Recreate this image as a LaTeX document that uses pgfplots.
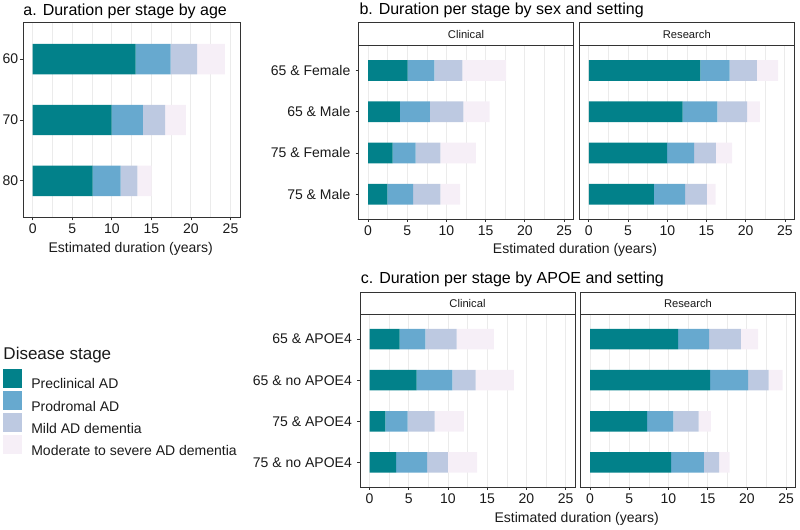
\documentclass[border=0pt]{standalone}
\usepackage{pgfplots}
\pgfplotsset{compat=1.18}
\usepackage{pgfplotstable}
\usepackage{fontspec}
\setmainfont{Liberation Sans}
\definecolor{cPre}{HTML}{02818A}
\definecolor{cPro}{HTML}{67A9CF}
\definecolor{cMild}{HTML}{BDC9E1}
\definecolor{cMod}{HTML}{F6EFF7}
\definecolor{gridc}{HTML}{EBEBEB}
\definecolor{g20}{HTML}{333333}
\definecolor{txt}{HTML}{1A1A1A}

\pgfplotstableread{
y pre pro mild mod
1 13.00 4.42 3.37 3.49
2 9.97 3.96 2.82 2.61
3 7.58 3.53 2.11 1.81
}\tA
\pgfplotstableread{
y pre pro mild mod
1 5.03 3.44 3.56 5.58
2 4.07 3.81 4.28 3.35
3 3.14 2.94 3.14 4.53
4 2.47 3.27 3.48 2.52
}\tBc
\pgfplotstableread{
y pre pro mild mod
1 14.23 3.72 3.46 2.72
2 11.96 4.42 3.79 1.65
3 9.98 3.43 2.80 2.07
4 8.29 4.00 2.77 1.11
}\tBr
\pgfplotstableread{
y pre pro mild mod
1 3.84 3.29 3.97 4.76
2 5.99 4.56 2.99 4.86
3 2.03 2.82 3.46 3.72
4 3.38 3.96 2.66 3.73
}\tCc
\pgfplotstableread{
y pre pro mild mod
1 11.22 3.97 4.05 2.19
2 15.32 4.85 2.61 1.78
3 7.26 3.37 3.21 1.56
4 10.34 4.17 1.95 1.35
}\tCr

\newcommand{\stages}[1]{%
\addplot[fill=cPre,draw=none] table[x=pre,y=y]{#1};
\addplot[fill=cPro,draw=none] table[x=pro,y=y]{#1};
\addplot[fill=cMild,draw=none] table[x=mild,y=y]{#1};
\addplot[fill=cMod,draw=none] table[x=mod,y=y]{#1};
}

\pgfplotsset{
  panel/.style={
    scale only axis, width=215bp,
    xbar stacked, bar width=0.5,
    xmin=-1.22, xmax=26.2,
    xtick={0,5,...,25}, minor xtick={2.5,7.5,...,22.5},
    xmajorgrids, xminorgrids,
    major grid style={color=gridc, line width=0.9bp},
    minor grid style={color=gridc, line width=0.5bp},
    y dir=reverse, ymin=0.4, ymax=4.6, ytick={1,2,3,4},
    axis line style={color=g20, line width=0.9bp},
    tick align=outside, major tick length=3bp, minor tick length=0pt,
    tick style={color=g20, line width=0.8bp},
    xtick pos=bottom, ytick pos=left,
    ticklabel style={font=\fontsize{14bp}{16bp}\selectfont, text=txt},
    yticklabel style={inner xsep=5bp},
    /pgf/number format/assume math mode=true,
    clip=false,
  },
  research/.style={ytick=\empty},
}

\newcommand{\strip}[3]{%
  \draw[g20, line width=0.9bp, fill=white] (#1.north west) rectangle ([yshift=#2]#1.north east);
  \node[font=\fontsize{11.2bp}{13bp}\selectfont, text=txt] at ([yshift=0.5*#2]#1.north) {#3};
}

\begin{document}
\begin{tikzpicture}[x=1bp,y=1bp]
\path[use as bounding box] (0,0) rectangle (800,530);

% Panel a
\begin{axis}[panel, width=217bp, height=194.6bp, at={(23bp,312.7bp)}, anchor=south west,
  ymax=3.6, ytick={1,2,3}, yticklabels={60,70,80},
  yticklabel style={inner xsep=3.2bp, xshift=1.5bp},
  legend image code/.code={\path[#1,draw=none] (0bp,-3.3bp) rectangle (19.4bp,15.7bp);},
  legend cell align=left,
  legend style={at={(axis description cs:-0.0935,-0.778)}, anchor=north west,
    draw=none, fill=none, inner sep=0pt, row sep=0pt, column sep=8.4bp,
    nodes={inner sep=0.6bp, font=\fontsize{14bp}{16bp}\selectfont, text=txt}},
]
\stages{\tA}
\legend{Preclinical AD, Prodromal AD, Mild AD dementia, Moderate to severe AD dementia}
\end{axis}

% Panel b
\begin{axis}[panel, name=bc, height=173.3bp, at={(358.5bp,311bp)}, anchor=south west,
  yticklabels={65 \& Female, 65 \& Male, 75 \& Female, 75 \& Male}]
\stages{\tBc}
\end{axis}
\begin{axis}[panel, research, name=br, height=173.3bp, at={(579.3bp,311bp)}, anchor=south west]
\stages{\tBr}
\end{axis}
\strip{bc}{23bp}{Clinical}
\strip{br}{23bp}{Research}

% Panel c
\begin{axis}[panel, name=cc, height=172.5bp, at={(360bp,43bp)}, anchor=south west,
  yticklabels={65 \& APOE4, 65 \& no APOE4, 75 \& APOE4, 75 \& no APOE4}]
\stages{\tCc}
\end{axis}
\begin{axis}[panel, research, name=cr, height=172.5bp, at={(580.5bp,43bp)}, anchor=south west]
\stages{\tCr}
\end{axis}
\strip{cc}{22.5bp}{Clinical}
\strip{cr}{22.5bp}{Research}

% Titles
\node[anchor=base west, font=\fontsize{16bp}{18bp}\selectfont, inner sep=0pt] at (23.3,514.3) {a. Duration per stage by age};
\node[anchor=base west, font=\fontsize{16bp}{18bp}\selectfont, inner sep=0pt] at (359.3,515) {b. Duration per stage by sex and setting};
\node[anchor=base west, font=\fontsize{16bp}{18bp}\selectfont, inner sep=0pt] at (360.7,246) {c. Duration per stage by APOE and setting};

% x labels
\node[anchor=base, font=\fontsize{14bp}{16bp}\selectfont, text=txt, inner sep=0pt] at (130.7,277) {Estimated duration (years)};
\node[anchor=base, font=\fontsize{14bp}{16bp}\selectfont, text=txt, inner sep=0pt] at (575,276) {Estimated duration (years)};
\node[anchor=base, font=\fontsize{14bp}{16bp}\selectfont, text=txt, inner sep=0pt] at (576.7,7) {Estimated duration (years)};

% Legend title
\node[anchor=base west, font=\fontsize{17bp}{19bp}\selectfont, text=txt, inner sep=0pt] at (3.3,170.7) {Disease stage};
\end{tikzpicture}
\end{document}
